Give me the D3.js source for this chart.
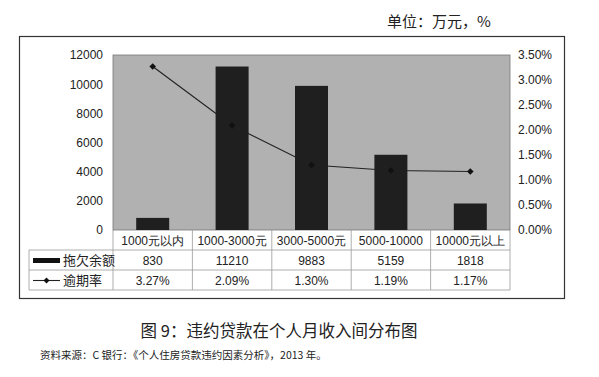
<!DOCTYPE html>
<html>
<head>
<meta charset="utf-8">
<script src="https://cdn.jsdelivr.net/npm/d3@7"></script>
<style>
  body { margin: 0; background: #fff; }
  svg text { font-family: "Liberation Sans", Arial, sans-serif; fill: #222; }
  .cjk { font-family: "Noto Sans CJK SC", sans-serif; }
</style>
</head>
<body>
<div id="chart"></div>
<script>
// income bands, overdue balance (万元) and overdue rate (%)
const categories = ["1000元以内", "1000-3000元", "3000-5000元", "5000-10000", "10000元以上"];
const balance = [830, 11210, 9883, 5159, 1818];
const rate = [3.27, 2.09, 1.30, 1.19, 1.17];
const leftTicks = [0, 2000, 4000, 6000, 8000, 10000, 12000];
const rightTicks = [0, 0.5, 1, 1.5, 2, 2.5, 3, 3.5];

const W = 599, H = 377;
const plot = { left: 113, right: 510, top: 55, bottom: 230 };

const svg = d3.select("#chart").append("svg")
  .attr("width", W).attr("height", H);

// outer frame
svg.append("rect")
  .attr("x", 19.5).attr("y", 36.5)
  .attr("width", 545).attr("height", 262)
  .attr("fill", "none").attr("stroke", "#333").attr("stroke-width", 1.2);

svg.append("text").attr("class", "cjk")
  .attr("x", 387).attr("y", 27)
  .style("font-size", "15px")
  .text("单位：万元，%");

const x = d3.scaleBand().domain(categories)
  .range([plot.left, plot.right]).paddingInner(0).paddingOuter(0);
const yL = d3.scaleLinear().domain([0, 12000]).range([plot.bottom, plot.top]);
const yR = d3.scaleLinear().domain([0, 3.5]).range([plot.bottom, plot.top]);

// plot background
svg.append("rect")
  .attr("x", plot.left).attr("y", plot.top)
  .attr("width", plot.right - plot.left).attr("height", plot.bottom - plot.top)
  .attr("fill", "#b1b1b1").attr("stroke", "#777").attr("stroke-width", 0.8);

// axes (no lines, only labels)
const leftAxis = svg.append("g")
  .attr("transform", `translate(${plot.left - 10},0)`)
  .call(d3.axisLeft(yL).tickValues(leftTicks).tickSize(0).tickPadding(0)
    .tickFormat(d3.format("d")));
const rightAxis = svg.append("g")
  .attr("transform", `translate(${plot.right + 8},0)`)
  .call(d3.axisRight(yR).tickValues(rightTicks).tickSize(0).tickPadding(0)
    .tickFormat(d => d.toFixed(2) + "%"));
[leftAxis, rightAxis].forEach(a => {
  a.select(".domain").remove();
  a.selectAll("text").style("font-size", "12px").style("font-family", "Liberation Sans, Arial, sans-serif").attr("fill", "#222");
});

// bars
const barW = 33;
svg.selectAll(".bar").data(balance).enter().append("rect")
  .attr("class", "bar")
  .attr("x", (d, i) => x(categories[i]) + x.bandwidth() / 2 - barW / 2)
  .attr("y", d => yL(d))
  .attr("width", barW)
  .attr("height", d => plot.bottom - yL(d))
  .attr("fill", "#1f1f1f");

// rate line
const line = d3.line()
  .x((d, i) => x(categories[i]) + x.bandwidth() / 2)
  .y(d => yR(d));
svg.append("path").datum(rate)
  .attr("d", line).attr("fill", "none")
  .attr("stroke", "#222").attr("stroke-width", 1.1);
const marker = d3.symbol(d3.symbolSquare, 22);
svg.selectAll(".pt").data(rate).enter().append("path")
  .attr("class", "pt")
  .attr("transform", (d, i) => `translate(${x(categories[i]) + x.bandwidth() / 2},${yR(d)}) rotate(45)`)
  .attr("d", marker)
  .attr("fill", "#111");

// data table
const rowH = 20;
const tTop = plot.bottom, tLeft = 29;
const rows = [plot.bottom, plot.bottom + rowH, plot.bottom + 2 * rowH, plot.bottom + 3 * rowH];
const grid = svg.append("g").attr("stroke", "#999").attr("stroke-width", 0.8);
// horizontal lines
grid.append("line").attr("x1", tLeft).attr("x2", plot.right).attr("y1", rows[1]).attr("y2", rows[1]);
grid.append("line").attr("x1", tLeft).attr("x2", plot.right).attr("y1", rows[2]).attr("y2", rows[2]);
grid.append("line").attr("x1", tLeft).attr("x2", plot.right).attr("y1", rows[3]).attr("y2", rows[3]);
// vertical lines
grid.append("line").attr("x1", tLeft).attr("x2", tLeft).attr("y1", rows[1]).attr("y2", rows[3]);
categories.forEach((c, i) => {
  grid.append("line").attr("x1", x(c)).attr("x2", x(c)).attr("y1", tTop).attr("y2", rows[3]);
});
grid.append("line").attr("x1", plot.right).attr("x2", plot.right).attr("y1", tTop).attr("y2", rows[3]);

const cell = (txt, i, r) => svg.append("text")
  .attr("x", x(categories[i]) + x.bandwidth() / 2)
  .attr("y", rows[r] + 14.5)
  .attr("text-anchor", "middle")
  .style("font-size", "12px")
  .text(txt);
categories.forEach((c, i) => cell(c, i, 0));
balance.forEach((v, i) => cell(String(v), i, 1));
rate.forEach((v, i) => cell(v.toFixed(2) + "%", i, 2));

// legend cells
svg.append("rect").attr("x", 33).attr("y", rows[1] + 8).attr("width", 27).attr("height", 5).attr("fill", "#111");
svg.append("text").attr("class", "cjk").attr("x", 63).attr("y", rows[1] + 15)
  .style("font-size", "13px").attr("fill", "#333").text("拖欠余额");
svg.append("line").attr("x1", 33).attr("x2", 60).attr("y1", rows[2] + 10.5).attr("y2", rows[2] + 10.5)
  .attr("stroke", "#222").attr("stroke-width", 1.1);
svg.append("path").attr("transform", `translate(46.5,${rows[2] + 10.5}) rotate(45)`)
  .attr("d", d3.symbol(d3.symbolSquare, 18)).attr("fill", "#111");
svg.append("text").attr("class", "cjk").attr("x", 63).attr("y", rows[2] + 15)
  .style("font-size", "13px").attr("fill", "#333").text("逾期率");

// caption and source
svg.append("text").attr("class", "cjk")
  .attr("x", 279).attr("y", 337).attr("text-anchor", "middle")
  .style("font-size", "16.5px").attr("fill", "#222")
  .text("图 9：违约贷款在个人月收入间分布图");
svg.append("text").attr("class", "cjk")
  .attr("x", 40).attr("y", 359)
  .style("font-size", "10.5px").attr("fill", "#333")
  .text("资料来源：C 银行：《个人住房贷款违约因素分析》，2013 年。");
</script>
</body>
</html>
